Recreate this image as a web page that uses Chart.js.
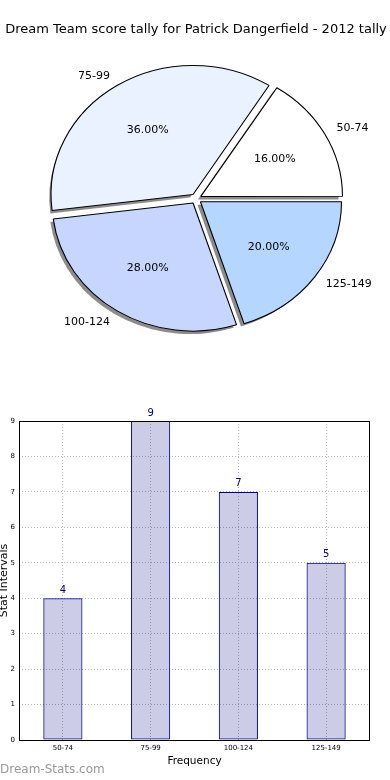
<!DOCTYPE html>
<html>
<head>
<meta charset="utf-8">
<script src="https://cdn.jsdelivr.net/npm/chart.js@4.4.0/dist/chart.umd.min.js"></script>
<style>
  body { margin: 0; background: #fff; }
  #wrap { position: relative; width: 390px; height: 780px; }
  canvas { position: absolute; left: 0; }
</style>
</head>
<body>
<div id="wrap">
  <canvas id="pie" width="390" height="370" style="top:0;width:390px;height:370px"></canvas>
  <canvas id="bar" width="390" height="410" style="top:370px;width:390px;height:410px"></canvas>
</div>
<script>
// score intervals and how many games fell in each
var intervals = ['50-74', '75-99', '100-124', '125-149'];
var games = [4, 9, 7, 5];
var sliceColors = ['#ffffff', '#eaf1ff', '#c6d6ff', '#b4d6ff'];
var yTicks = [0, 1, 2, 3, 4, 5, 6, 7, 8, 9];

var FONT = '"DejaVu Sans", Verdana, sans-serif';
var stretchX = 1.1;   // pie is drawn as an ellipse like the original
var explode = 20;     // chart.js moves an arc by offset/4

// matplotlib goes counter-clockwise from 3 o'clock, chart.js clockwise -> reverse
var pieLabels = intervals.slice().reverse();
var pieData = games.slice().reverse();
var pieColors = sliceColors.slice().reverse();

var ellipsePlugin = {
    id: 'ellipse',
    beforeDatasetsDraw: function(chart) {
        var ctx = chart.ctx;
        var arcs = chart.getDatasetMeta(0).data;
        var cx0 = arcs[0].x;
        // drop shadow under every wedge (down-left, like matplotlib)
        ctx.save();
        ctx.translate(-3, 3);
        ctx.translate(cx0, 0);
        ctx.scale(stretchX, 1);
        ctx.translate(-cx0, 0);
        ctx.fillStyle = 'rgba(0,0,0,0.45)';
        arcs.forEach(function(arc) {
            var mid = (arc.startAngle + arc.endAngle) / 2;
            var d = explode / 4;
            var x = arc.x + Math.cos(mid) * d, y = arc.y + Math.sin(mid) * d;
            ctx.beginPath();
            ctx.moveTo(x, y);
            ctx.arc(x, y, arc.outerRadius, arc.startAngle, arc.endAngle);
            ctx.closePath();
            ctx.fill();
        });
        ctx.restore();

        ctx.save();
        ctx.translate(cx0, 0);
        ctx.scale(stretchX, 1);
        ctx.translate(-cx0, 0);
    },
    afterDatasetsDraw: function(chart) {
        var ctx = chart.ctx;
        ctx.restore();
        var total = 0;
        pieData.forEach(function(v) { total += v; });
        chart.getDatasetMeta(0).data.forEach(function(arc, i) {
            var mid = (arc.startAngle + arc.endAngle) / 2;
            var c = Math.cos(mid), s = Math.sin(mid);
            var d = explode / 4, r = arc.outerRadius;
            ctx.save();
            ctx.fillStyle = '#000';
            ctx.font = '11px ' + FONT;
            ctx.textBaseline = 'middle';
            // percentage inside
            ctx.textAlign = 'center';
            ctx.fillText((pieData[i] / total * 100).toFixed(2) + '%',
                arc.x + c * (d + r * 0.6) * stretchX, arc.y + s * (d + r * 0.6));
            // category outside
            ctx.textAlign = c > 0 ? 'left' : 'right';
            ctx.fillText(pieLabels[i],
                arc.x + c * (d + r * 1.1) * stretchX, arc.y + s * (d + r * 1.1));
            ctx.restore();
        });
    }
};

new Chart(document.getElementById('pie'), {
    type: 'pie',
    data: {
        labels: pieLabels,
        datasets: [{
            data: pieData,
            backgroundColor: pieColors,
            borderColor: '#000',
            borderWidth: 1,
            offset: explode,
            radius: 128
        }]
    },
    options: {
        responsive: false,
        animation: false,
        rotation: 90,
        layout: { padding: { left: 2, right: 0, top: 0, bottom: 10 } },
        plugins: {
            legend: { display: false },
            tooltip: { enabled: false },
            title: {
                display: true,
                text: 'Dream Team score tally for Patrick Dangerfield - 2012 tally',
                color: '#000',
                font: { family: FONT, size: 13, weight: 'normal' },
                padding: { top: 22, bottom: 0 }
            }
        }
    },
    plugins: [ellipsePlugin]
});

// frame, value labels and watermark for the bar chart
var barExtras = {
    id: 'barExtras',
    afterDatasetsDraw: function(chart) {
        var ctx = chart.ctx, a = chart.chartArea;
        ctx.save();
        ctx.strokeStyle = '#000';
        ctx.lineWidth = 1;
        ctx.strokeRect(a.left + 0.5, a.top + 0.5, a.right - a.left - 1, a.bottom - a.top);

        ctx.fillStyle = '#000080';
        ctx.font = '10px ' + FONT;
        ctx.textAlign = 'center';
        ctx.textBaseline = 'bottom';
        chart.getDatasetMeta(0).data.forEach(function(bar, i) {
            ctx.fillText(String(games[i]), bar.x, bar.y - 3);
        });

        ctx.fillStyle = '#999999';
        ctx.font = '12px ' + FONT;
        ctx.textAlign = 'left';
        ctx.textBaseline = 'middle';
        ctx.fillText('Dream-Stats.com', 0, 400);
        ctx.restore();
    }
};

new Chart(document.getElementById('bar'), {
    type: 'bar',
    data: {
        labels: intervals,
        datasets: [{
            data: games,
            backgroundColor: 'rgba(0,0,128,0.2)',
            borderColor: '#000080',
            borderWidth: 1,
            borderSkipped: false,
            categoryPercentage: 1,
            barPercentage: 0.446
        }]
    },
    options: {
        responsive: false,
        animation: false,
        layout: { padding: { left: 0, right: 20, top: 51, bottom: 12 } },
        plugins: { legend: { display: false }, tooltip: { enabled: false } },
        scales: {
            x: {
                grid: { offset: false, color: '#b8b8b8', drawTicks: false },
                border: { display: false, dash: [1, 2] },
                ticks: { color: '#000', font: { family: FONT, size: 7 }, padding: 4, maxRotation: 0 },
                title: { display: true, text: 'Frequency', color: '#000',
                         font: { family: FONT, size: 10.5 }, padding: { top: 0, bottom: 0 } },
                afterFit: function(scale) { scale.height = 28; }
            },
            y: {
                min: yTicks[0],
                max: yTicks[yTicks.length - 1],
                grid: { color: '#b8b8b8', drawTicks: false },
                border: { display: false, dash: [1, 2] },
                ticks: { stepSize: 1, color: '#000', font: { family: FONT, size: 7 }, padding: 4 },
                title: { display: true, text: 'Stat Intervals', color: '#000',
                         font: { family: FONT, size: 11 }, padding: { top: -2, bottom: 0 } },
                afterFit: function(scale) { scale.width = 19; }
            }
        }
    },
    plugins: [barExtras]
});
</script>
</body>
</html>
